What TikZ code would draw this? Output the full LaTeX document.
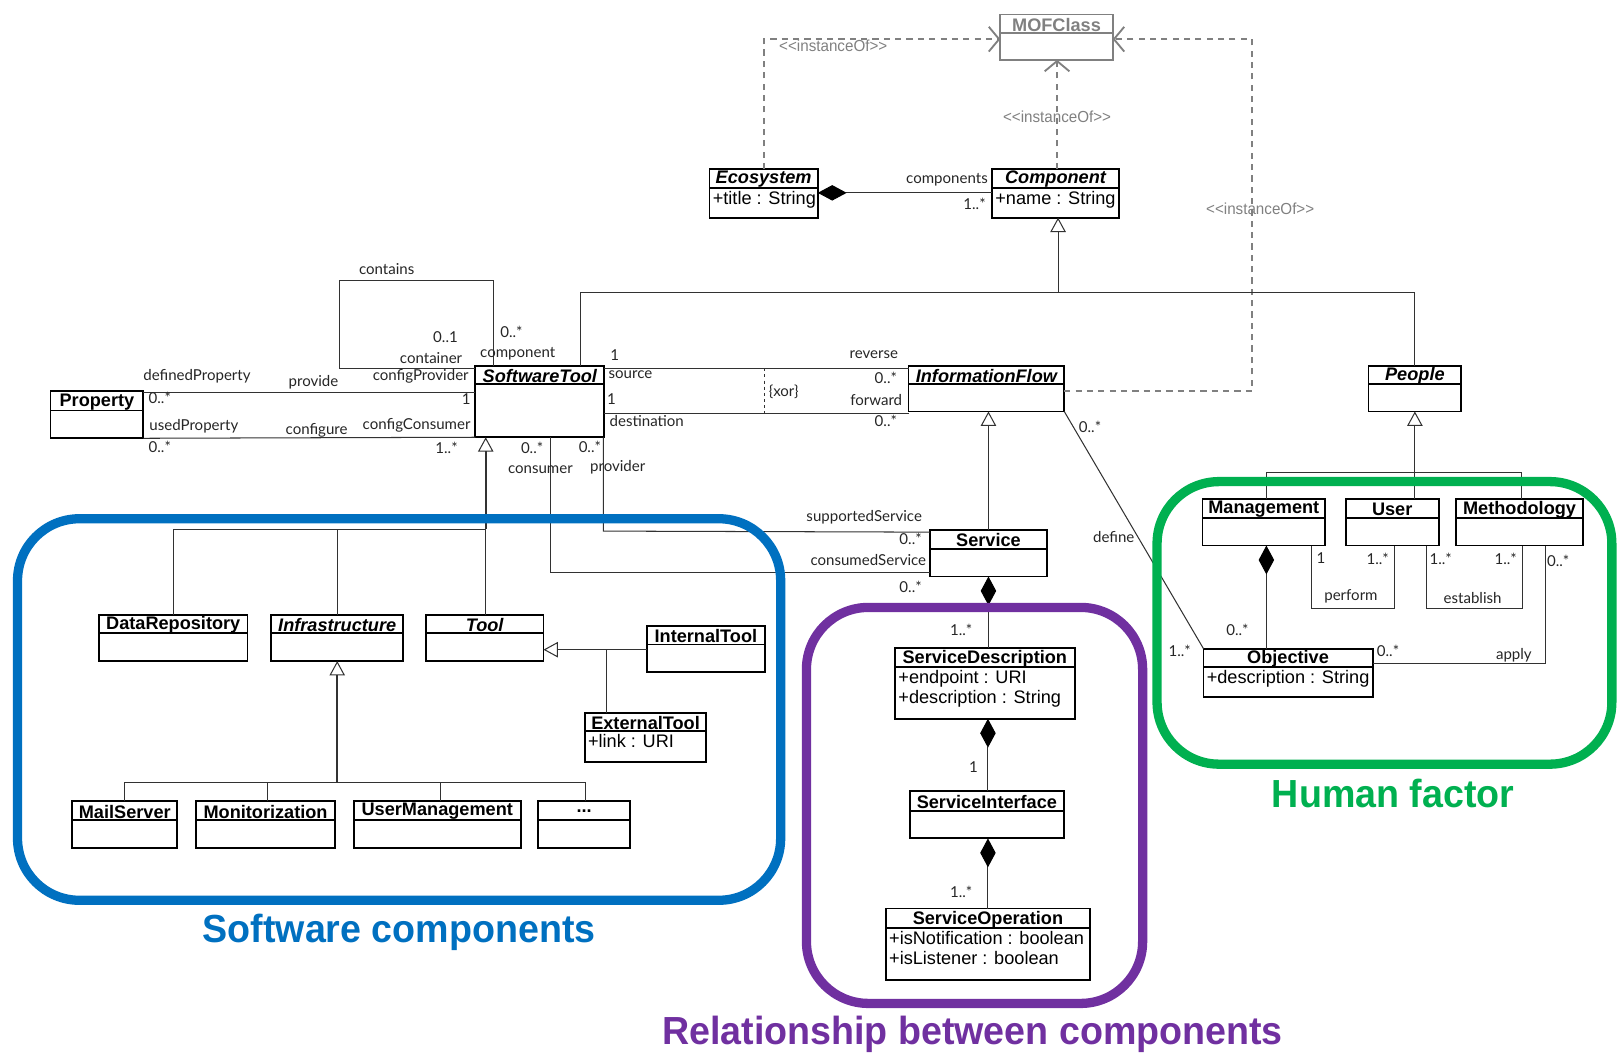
\documentclass[tikz,border=0pt]{standalone}
\usepackage{fontspec}
\setmainfont{Liberation Sans}
\newfontfamily\lblfont{Lato}
\usetikzlibrary{arrows.meta,calc}

\definecolor{swblue}{RGB}{0,112,192}
\definecolor{relpurple}{RGB}{112,48,160}
\definecolor{hfgreen}{RGB}{0,176,80}
\definecolor{mofgray}{RGB}{128,128,128}
\definecolor{linegray}{RGB}{50,50,50}

\tikzset{
 clsbox/.style={draw, line width=1.8pt, inner sep=0pt, outer sep=0pt, anchor=north west},
 conn/.style={draw=linegray, line width=1pt},
 genl/.style={conn, -{Triangle[open, width=15pt, length=14pt, line width=1pt]}},
 comp/.style={conn, {Diamond[width=15pt, length=28pt, color=black, fill=black]}-},
 inst/.style={draw=mofgray, line width=1.8pt, dash pattern=on 6pt off 5pt, -{Straight Barb[length=10pt, width=24pt, line width=1.8pt]}},
 lbl/.style={font=\lblfont\fontsize{14.6}{15}\selectfont, inner sep=0pt, text=black!85},
 insttxt/.style={font=\fontsize{15.5}{16}\selectfont, text=mofgray, inner sep=0pt, xscale=0.95},
 grp/.style={line width=9pt, rounded corners=60pt},
 ttl/.style={font=\bfseries\fontsize{38}{40}\selectfont, inner sep=0pt, xscale=0.96},
}

\newcommand{\umlcls}[9]{%
 \node[clsbox, minimum width={(#4-#2)*1pt}, minimum height={(#5-#3)*1pt}] (#1) at (#2,#3) {};
 \draw[line width=1.8pt] (#2,#6) -- (#4,#6);
 \node[font=#7\fontsize{17.6}{18}\selectfont, inner sep=0pt] (#1-t) at ({(#2+#4)/2},{(#3+#6)/2+1}) {#8};
 \node[anchor=north west, font=\fontsize{17.6}{19.5}\selectfont, inner sep=0pt, align=left] (#1-a) at (#2+3,#6+3) {#9};
}
\newcommand{\lb}[5][center]{\node[lbl, anchor=#1] (#2) at (#3,#4) {#5};}
\newcommand{\inst}{<\kern0pt<instanceOf>\kern0pt>}

\begin{document}
\begin{tikzpicture}[x=1pt, y={(0pt,-1pt)}]
\useasboundingbox (0,0) rectangle (1568,1022);

% ---- classes
\node[clsbox, draw=mofgray, minimum width=109pt, minimum height=44pt] (MOF) at (970,14) {};
\draw[mofgray, line width=1.8pt] (970,32) -- (1079,32);
\node[font=\bfseries\fontsize{17.6}{18}\selectfont, text=mofgray, inner sep=0pt] (MOF-t) at (1024.5,24) {MOFClass};

\umlcls{Eco}{688}{164}{793}{211}{182}{\bfseries\itshape}{Ecosystem}{+title : String}
\umlcls{Comp}{962}{164}{1085}{211}{182}{\bfseries\itshape}{Component}{+name : String}
\umlcls{ST}{461}{355}{586}{424}{372}{\bfseries\itshape}{SoftwareTool}{}
\umlcls{IF}{881}{355}{1032}{399}{372}{\bfseries\itshape}{InformationFlow}{}
\umlcls{People}{1327}{355}{1417}{399}{372}{\bfseries\itshape}{People}{}
\umlcls{Prop}{49}{379}{139}{425}{398}{\bfseries}{Property}{}

\umlcls{DR}{96}{596}{240}{641}{614}{\bfseries}{DataRepository}{}
\umlcls{Infra}{263}{596}{391}{641}{614}{\bfseries\itshape}{Infrastructure}{}
\umlcls{Tool}{413}{596}{527}{641}{614}{\bfseries\itshape}{Tool}{}
\umlcls{InT}{627}{607}{742}{652}{625}{\bfseries}{InternalTool}{}
\umlcls{ExT}{567}{691}{685}{739}{709}{\bfseries}{ExternalTool}{+link : URI}
\umlcls{MS}{70}{777}{172}{822}{795}{\bfseries}{MailServer}{}
\umlcls{Mon}{190}{777}{325}{822}{795}{\bfseries}{Monitorization}{}
\umlcls{UM}{343}{777}{505}{822}{795}{\bfseries}{UserManagement}{}
\umlcls{Dots}{522}{777}{611}{822}{795}{\bfseries}{...}{}

\umlcls{Svc}{902}{514}{1015}{559}{532}{\bfseries}{Service}{}
\umlcls{SD}{868}{628}{1042}{697}{647}{\bfseries}{ServiceDescription}{+endpoint : URI\\+description : String}
\umlcls{SI}{882}{767}{1032}{813}{786}{\bfseries}{ServiceInterface}{}
\umlcls{SO}{859}{881}{1057}{950}{900}{\bfseries}{ServiceOperation}{+isNotification : boolean\\+isListener : boolean}

\umlcls{Mgmt}{1166}{484}{1285}{529}{502}{\bfseries}{Management}{}
\umlcls{User}{1305}{484}{1395}{529}{502}{\bfseries}{User}{}
\umlcls{Meth}{1412}{484}{1535}{529}{502}{\bfseries}{Methodology}{}
\umlcls{Obj}{1167}{629}{1331}{676}{647}{\bfseries}{Objective}{+description : String}

% ---- instanceOf
\draw[inst] (Eco.north -| 741,0) -- (741,38) -- (MOF.west |- 0,38);
\draw[inst] (Comp.north -| 1025,0) -- (MOF.south -| 1025,0);
\draw[inst] (IF.east |- 0,379) -- (1214,379) -- (1214,38) -- (MOF.east |- 0,38);
\node[insttxt] (i1) at (808,44) {\inst};
\node[insttxt] (i2) at (1025,113) {\inst};
\node[insttxt] (i3) at (1222,202) {\inst};

% ---- top connectors
\draw[comp] (Eco.east |- 0,187) -- (Comp.west |- 0,187);
\draw[conn] (ST.north -| 563,0) -- (563,284) -- (People.north |- 0,284) -- (People.north);
\draw[genl] (1026,284) -- (Comp.south -| 1026,0);

\draw[conn] (ST.north -| 479,0) -- (479,272) -- (329,272) -- (329,357) -- (ST.west |- 0,357);
\draw[conn] (Prop.east |- 0,381) -- (ST.west |- 0,381);
\draw[conn] (Prop.south east) -- (ST.south west);

\draw[conn] (ST.east |- 0,357) -- (IF.west |- 0,357);
\draw[conn] (ST.east |- 0,401) -- (IF.west |- 0,401);
\draw[conn, dashed] (741,357) -- (741,401);

\draw[conn] (ST.south -| 534,0) -- (534,555) -- (Svc.west |- 0,555);
\draw[conn] (ST.south -| 585,0) -- (585,515) -- (Svc.west |- 0,516);
\draw[genl] (Svc.north) -- (Svc.north |- IF.south);
\draw[conn] (IF.south east) -- (Obj.north west);

% ---- software components
\draw[genl, line width=1.8pt] (471,513) -- (ST.south -| 471,0);
\draw[conn] (DR.north) -- (DR.north |- 0,513) -- (471,513);
\draw[conn] (Infra.north) -- (Infra.north |- 0,513);
\draw[conn] (471,513) -- (Tool.north -| 471,0);
\draw[genl] (InT.west |- 0,630) -- (Tool.east |- 0,630);
\draw[conn] (ExT.north -| 588,0) -- (588,630);
\draw[genl, line width=1.8pt] (327,759) -- (Infra.south);
\draw[conn] (MS.north -| 121,0) -- (121,759) -- (568,759) -- (Dots.north -| 568,0);
\draw[conn] (Mon.north -| 259,0) -- (259,759);
\draw[conn] (UM.north -| 427,0) -- (427,759);

% ---- services
\draw[comp] (Svc.south) -- (Svc.south |- SD.north);
\draw[comp] (SD.south -| 958,0) -- (SI.north -| 958,0);
\draw[comp] (SI.south -| 958,0) -- (SO.north -| 958,0);

% ---- people
\draw[genl] (1372,458) -- (People.south);
\draw[conn] (Mgmt.north -| 1228,0) -- (1228,458) -- (1475,458) -- (Meth.north -| 1475,0);
\draw[conn] (User.north -| 1372,0) -- (1372,458);
\draw[comp] (Mgmt.south -| 1228,0) -- (Obj.north -| 1228,0);
\draw[conn] (Mgmt.south -| 1272,0) -- (1272,590) -- (1352,590) -- (User.south -| 1352,0);
\draw[conn] (User.south -| 1383,0) -- (1383,590) -- (1476,590) -- (Meth.south -| 1476,0);
\draw[conn] (Meth.south -| 1499,0) -- (1499,643) -- (Obj.east |- 0,643);

% ---- labels
\lb{a1}{191}{365}{definedProperty}
\lb[west]{a2}{144}{386}{0..*}
\lb{a3}{304}{371}{provide}
\lb{a4}{408}{365}{configProvider}
\lb{a5}{452}{387}{1}
\lb{a6}{188}{413}{usedProperty}
\lb[west]{a7}{144}{433}{0..*}
\lb{a8}{307}{417}{configure}
\lb{a9}{404}{412}{configConsumer}
\lb{a10}{433}{434}{1..*}
\lb{b1}{375}{261}{contains}
\lb{b2}{432}{327}{0..1}
\lb{b3}{418}{347}{container}
\lb{b4}{496}{322}{0..*}
\lb{b5}{502}{343}{component}
\lb{c1}{596}{344}{1}
\lb[west]{c2}{590}{363}{source}
\lb{c3}{593}{387}{1}
\lb[west]{c4}{591}{408}{destination}
\lb[east]{c5}{871}{344}{reverse}
\lb{c6}{859}{366}{0..*}
\lb[east]{c7}{875}{388}{forward}
\lb{c8}{859}{408}{0..*}
\lb{c9}{760}{380}{\{xor\}}
\lb{d1}{516}{434}{0..*}
\lb{d2}{524}{455}{consumer}
\lb{d3}{572}{433}{0..*}
\lb{d4}{599}{453}{provider}
\lb{d5}{838}{502}{supportedService}
\lb{d6}{883}{523}{0..*}
\lb{d7}{842}{543}{consumedService}
\lb{d8}{883}{569}{0..*}
\lb[east]{e1}{958}{174}{components}
\lb{e2}{945}{198}{1..*}
\lb{e3}{1057}{414}{0..*}
\lb{e4}{1080}{521}{define}
\lb{e5}{1144}{631}{1..*}
\lb{f1}{932}{611}{1..*}
\lb{f2}{944}{744}{1}
\lb{f3}{932}{865}{1..*}
\lb{g1}{1200}{611}{0..*}
\lb{g2}{1281}{541}{1}
\lb{g3}{1336}{542}{1..*}
\lb{g4}{1310}{578}{perform}
\lb{g5}{1397}{542}{1..*}
\lb{g6}{1460}{542}{1..*}
\lb{g7}{1428}{580}{establish}
\lb{g8}{1511}{544}{0..*}
\lb{g9}{1346}{631}{0..*}
\lb{g10}{1468}{635}{apply}

% ---- groups
\draw[swblue, grp] (17,503) rectangle (757,873);
\draw[relpurple, grp] (782,589) rectangle (1108,973);
\draw[hfgreen, grp] (1122,467) rectangle (1563,741);
\node[ttl, text=swblue] (T1) at (387,904) {Software components};
\node[ttl, text=relpurple] (T2) at (943,1003) {Relationship between components};
\node[ttl, text=hfgreen] (T3) at (1351,769) {Human factor};
\end{tikzpicture}
\end{document}
